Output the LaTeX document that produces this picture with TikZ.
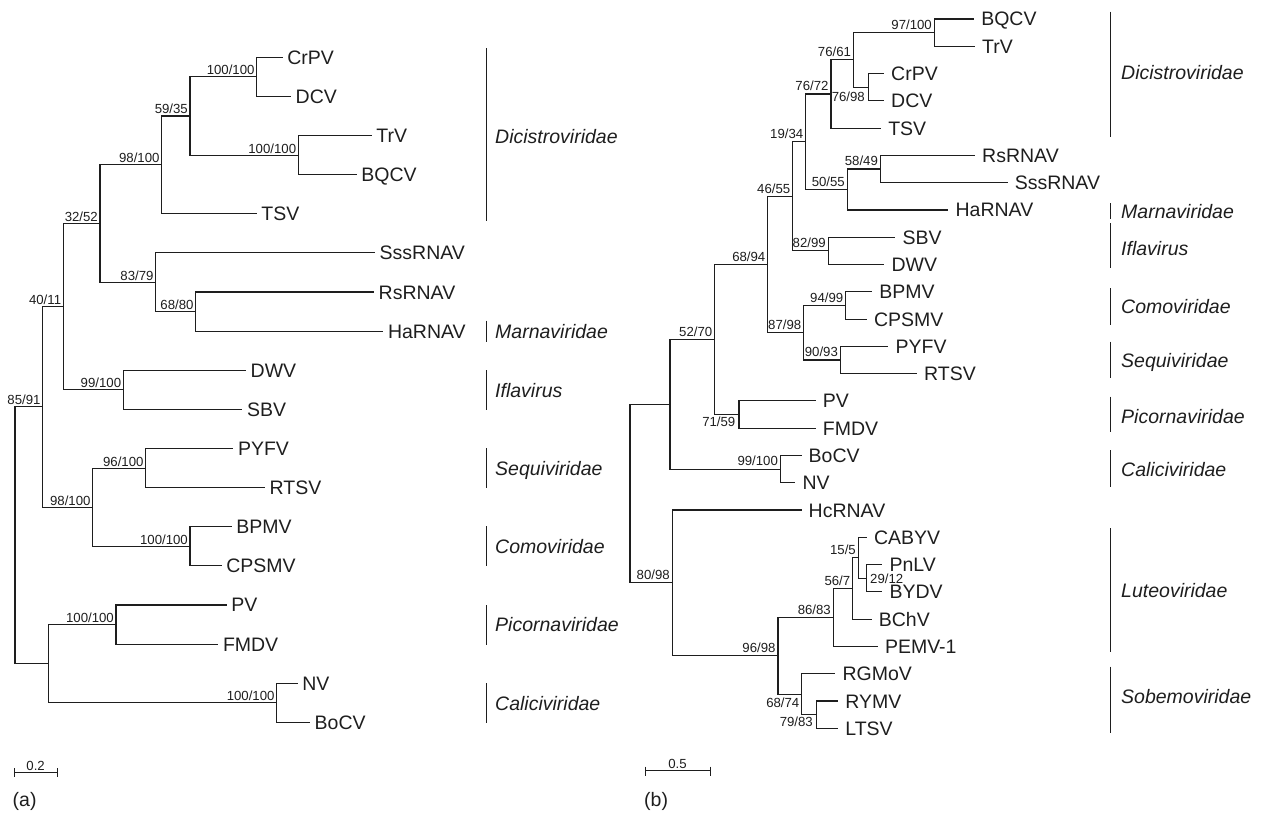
\documentclass[tikz,border=0pt]{standalone}
\usepackage{fontspec}
\setmainfont{Liberation Sans}
\definecolor{ink}{HTML}{1E1E1E}
\begin{document}
\begin{tikzpicture}[x=1pt,y=-1pt,
  br/.style={draw=ink,line width=1.1pt},
  leafa/.style={anchor=west,inner xsep=4.5pt,inner ysep=0pt,text height=14pt,text depth=0pt,font=\fontsize{19.5}{22}\selectfont,text=ink},
  leafb/.style={leafa,inner xsep=7pt},
  boot/.style={inner sep=0pt,text height=9.5pt,text depth=0pt,font=\fontsize{13.2}{15}\selectfont,text=ink},
  boota/.style={boot,anchor=south east,xshift=-2pt,yshift=1.8pt},
  bootb/.style={boot,anchor=south east,xshift=-2.3pt,yshift=3pt},
  fam/.style={anchor=west,inner sep=0pt,text height=14pt,text depth=0pt,font=\fontsize{19.5}{22}\selectfont\itshape,text=ink},
  panel/.style={anchor=base west,inner sep=0pt,font=\fontsize{19.5}{22}\selectfont,text=ink}]
\useasboundingbox (0,0) rectangle (1263,816);

% ================= panel (a) =================
\node[leafa] (CrPVa) at (282.7,57.3) {CrPV};
\node[leafa] (DCVa) at (291,96.42) {DCV};
\node[leafa] (TrVa) at (371.7,135.54) {TrV};
\node[leafa] (BQCVa) at (356.7,174.66) {BQCV};
\node[leafa] (TSVa) at (256.7,213.78) {TSV};
\node[leafa] (SssRNAVa) at (375,252.9) {SssRNAV};
\node[leafa] (RsRNAVa) at (374,292.02) {RsRNAV};
\node[leafa] (HaRNAVa) at (383.3,331.14) {HaRNAV};
\node[leafa] (DWVa) at (246,370.26) {DWV};
\node[leafa] (SBVa) at (242.3,409.38) {SBV};
\node[leafa] (PYFVa) at (233.3,448.5) {PYFV};
\node[leafa] (RTSVa) at (265,487.62) {RTSV};
\node[leafa] (BPMVa) at (231.7,526.74) {BPMV};
\node[leafa] (CPSMVa) at (221.7,565.86) {CPSMV};
\node[leafa] (PVa) at (226.7,604.98) {PV};
\node[leafa] (FMDVa) at (218.3,644.1) {FMDV};
\node[leafa] (NVa) at (297.7,683.22) {NV};
\node[leafa] (BoCVa) at (310,722.34) {BoCV};

\coordinate (a1) at (256.7,76.86);
\coordinate (a2) at (298.3,155.1);
\coordinate (a3) at (190,115.98);
\coordinate (a4) at (161.7,164.88);
\coordinate (a5) at (195.7,311.58);
\coordinate (a6) at (155.7,282.24);
\coordinate (a7) at (100,223.56);
\coordinate (a8) at (123.3,389.82);
\coordinate (a9) at (63.3,306.69);
\coordinate (a10) at (145.7,468.06);
\coordinate (a11) at (190,546.3);
\coordinate (a12) at (92.7,507.18);
\coordinate (a13) at (42.7,406.94);
\coordinate (a14) at (116,624.54);
\coordinate (a15) at (276.7,702.78);
\coordinate (a16) at (48.3,663.66);
\coordinate (a0) at (15,535.3);

\draw[br] (a1) |- (CrPVa.west);  \draw[br] (a1) |- (DCVa.west);
\draw[br] (a2) |- (TrVa.west);   \draw[br] (a2) |- (BQCVa.west);
\draw[br] (a3) |- (a1);          \draw[br] (a3) |- (a2);
\draw[br] (a4) |- (a3);          \draw[br] (a4) |- (TSVa.west);
\draw[br] (a5) |- (RsRNAVa.west); \draw[br] (a5) |- (HaRNAVa.west);
\draw[br] (a6) |- (SssRNAVa.west); \draw[br] (a6) |- (a5);
\draw[br] (a7) |- (a4);          \draw[br] (a7) |- (a6);
\draw[br] (a8) |- (DWVa.west);   \draw[br] (a8) |- (SBVa.west);
\draw[br] (a9) |- (a7);          \draw[br] (a9) |- (a8);
\draw[br] (a10) |- (PYFVa.west); \draw[br] (a10) |- (RTSVa.west);
\draw[br] (a11) |- (BPMVa.west); \draw[br] (a11) |- (CPSMVa.west);
\draw[br] (a12) |- (a10);        \draw[br] (a12) |- (a11);
\draw[br] (a13) |- (a9);         \draw[br] (a13) |- (a12);
\draw[br] (a14) |- (PVa.west);   \draw[br] (a14) |- (FMDVa.west);
\draw[br] (a15) |- (NVa.west);   \draw[br] (a15) |- (BoCVa.west);
\draw[br] (a16) |- (a14);        \draw[br] (a16) |- (a15);
\draw[br] (a0) |- (a13);         \draw[br] (a0) |- (a16);

\node[boota] (ba1) at (a1) {100/100};
\node[boota] (ba2) at (a2) {100/100};
\node[boota] (ba3) at (a3) {59/35};
\node[boota] (ba4) at (a4) {98/100};
\node[boota] (ba5) at (a5) {68/80};
\node[boota] (ba6) at (a6) {83/79};
\node[boota] (ba7) at (a7) {32/52};
\node[boota] (ba8) at (a8) {99/100};
\node[boota] (ba9) at (a9) {40/11};
\node[boota] (ba10) at (a10) {96/100};
\node[boota] (ba11) at (a11) {100/100};
\node[boota] (ba12) at (a12) {98/100};
\node[boota] (ba13) at (a13) {85/91};
\node[boota] (ba14) at (a14) {100/100};
\node[boota] (ba15) at (a15) {100/100};

% family bars (a)
\draw[br] (486.7,48.3) -- (486.7,221);
\draw[br] (486.7,320.7) -- (486.7,342.3);
\draw[br] (486.7,370) -- (486.7,410);
\draw[br] (486.7,448.3) -- (486.7,488);
\draw[br] (486.7,526.3) -- (486.7,566);
\draw[br] (486.7,605) -- (486.7,644.5);
\draw[br] (486.7,683) -- (486.7,723);
\node[fam] (fa1) at (495,136.5) {Dicistroviridae};
\node[fam] (fa2) at (495,331) {Marnaviridae};
\node[fam] (fa3) at (495,390) {Iflavirus};
\node[fam] (fa4) at (495,468) {Sequiviridae};
\node[fam] (fa5) at (495,546) {Comoviridae};
\node[fam] (fa6) at (495,624.5) {Picornaviridae};
\node[fam] (fa7) at (495,703) {Caliciviridae};

% scale (a)
\draw[br,line width=1pt] (14,772.7) -- (57.3,772.7);
\draw[br,line width=1pt] (14,768.3) -- (14,776.5);
\draw[br,line width=1pt] (57.3,768.3) -- (57.3,776.5);
\node[boot,anchor=south] (sa) at (35.6,771) {0.2};
\node[panel] (pa) at (12.5,806) {(a)};

% ================= panel (b) =================
\node[leafb] (BQCVb) at (974.1,19) {BQCV};
\node[leafb] (TrVb) at (975,46.28) {TrV};
\node[leafb] (CrPVb) at (884,73.56) {CrPV};
\node[leafb] (DCVb) at (884,100.84) {DCV};
\node[leafb] (TSVb) at (881.1,128.12) {TSV};
\node[leafb] (RsRNAVb) at (975,155.4) {RsRNAV};
\node[leafb] (SssRNAVb) at (1007.6,182.68) {SssRNAV};
\node[leafb] (HaRNAVb) at (948.4,209.96) {HaRNAV};
\node[leafb] (SBVb) at (895.4,237.24) {SBV};
\node[leafb] (DWVb) at (884.4,264.52) {DWV};
\node[leafb] (BPMVb) at (872.1,291.8) {BPMV};
\node[leafb] (CPSMVb) at (866.8,319.08) {CPSMV};
\node[leafb] (PYFVb) at (888.4,346.36) {PYFV};
\node[leafb] (RTSVb) at (917,373.64) {RTSV};
\node[leafb] (PVb) at (815.7,400.92) {PV};
\node[leafb] (FMDVb) at (815.7,428.2) {FMDV};
\node[leafb] (BoCVb) at (801.5,455.48) {BoCV};
\node[leafb] (NVb) at (795.4,482.76) {NV};
\node[leafb] (HcRNAVb) at (801.5,510.04) {HcRNAV};
\node[leafb] (CABYVb) at (866.8,537.32) {CABYV};
\node[leafb] (PnLVb) at (882.3,564.6) {PnLV};
\node[leafb] (BYDVb) at (882.3,591.88) {BYDV};
\node[leafb] (BChVb) at (871.7,619.16) {BChV};
\node[leafb] (PEMVb) at (877.8,646.44) {PEMV-1};
\node[leafb] (RGMoVb) at (835.4,673.72) {RGMoV};
\node[leafb] (RYMVb) at (838.2,701) {RYMV};
\node[leafb] (LTSVb) at (838.2,728.28) {LTSV};

\coordinate (b1) at (934.3,32.64);
\coordinate (b2) at (868.2,87.2);
\coordinate (b3) at (853.5,59.92);
\coordinate (b4) at (831,94.02);
\coordinate (b5) at (880.4,169.04);
\coordinate (b6) at (847.3,189.5);
\coordinate (b7) at (805.7,141.76);
\coordinate (b8) at (828.2,250.88);
\coordinate (b9) at (792.7,196.32);
\coordinate (b10) at (845.7,305.44);
\coordinate (b11) at (840.4,360);
\coordinate (b12) at (803.7,332.72);
\coordinate (b13) at (767.8,264.52);
\coordinate (b14) at (739,414.56);
\coordinate (b15) at (714.7,339.54);
\coordinate (b16) at (780.4,469.12);
\coordinate (b17) at (670,404.33);
\coordinate (b18) at (866.7,578.24);
\coordinate (b19) at (858.3,557.78);
\coordinate (b20) at (852.7,588.47);
\coordinate (b21) at (833.3,617.46);
\coordinate (b22) at (816.7,714.64);
\coordinate (b23) at (801.6,694.18);
\coordinate (b24) at (778,655.82);
\coordinate (b25) at (672.2,582.93);
\coordinate (b0) at (630,493.6);

\draw[br] (b1) |- (BQCVb.west);  \draw[br] (b1) |- (TrVb.west);
\draw[br] (b2) |- (CrPVb.west);  \draw[br] (b2) |- (DCVb.west);
\draw[br] (b3) |- (b1);          \draw[br] (b3) |- (b2);
\draw[br] (b4) |- (b3);          \draw[br] (b4) |- (TSVb.west);
\draw[br] (b5) |- (RsRNAVb.west); \draw[br] (b5) |- (SssRNAVb.west);
\draw[br] (b6) |- (b5);          \draw[br] (b6) |- (HaRNAVb.west);
\draw[br] (b7) |- (b4);          \draw[br] (b7) |- (b6);
\draw[br] (b8) |- (SBVb.west);   \draw[br] (b8) |- (DWVb.west);
\draw[br] (b9) |- (b7);          \draw[br] (b9) |- (b8);
\draw[br] (b10) |- (BPMVb.west); \draw[br] (b10) |- (CPSMVb.west);
\draw[br] (b11) |- (PYFVb.west); \draw[br] (b11) |- (RTSVb.west);
\draw[br] (b12) |- (b10);        \draw[br] (b12) |- (b11);
\draw[br] (b13) |- (b9);         \draw[br] (b13) |- (b12);
\draw[br] (b14) |- (PVb.west);   \draw[br] (b14) |- (FMDVb.west);
\draw[br] (b15) |- (b13);        \draw[br] (b15) |- (b14);
\draw[br] (b16) |- (BoCVb.west); \draw[br] (b16) |- (NVb.west);
\draw[br] (b17) |- (b15);        \draw[br] (b17) |- (b16);
\draw[br] (b18) |- (PnLVb.west); \draw[br] (b18) |- (BYDVb.west);
\draw[br] (b19) |- (CABYVb.west); \draw[br] (b19) |- (b18);
\draw[br] (b20) |- (b19);        \draw[br] (b20) |- (BChVb.west);
\draw[br] (b21) |- (b20);        \draw[br] (b21) |- (PEMVb.west);
\draw[br] (b22) |- (RYMVb.west); \draw[br] (b22) |- (LTSVb.west);
\draw[br] (b23) |- (RGMoVb.west); \draw[br] (b23) |- (b22);
\draw[br] (b24) |- (b21);        \draw[br] (b24) |- (b23);
\draw[br] (b25) |- (HcRNAVb.west); \draw[br] (b25) |- (b24);
\draw[br] (b0) |- (b17);         \draw[br] (b0) |- (b25);

\node[bootb] (bb1) at (b1) {97/100};
\node[boot,anchor=east] (bb2) at (865,96.5) {76/98};
\node[bootb] (bb3) at (b3) {76/61};
\node[bootb] (bb4) at (b4) {76/72};
\node[bootb] (bb5) at (b5) {58/49};
\node[bootb] (bb6) at (b6) {50/55};
\node[bootb] (bb7) at (b7) {19/34};
\node[bootb] (bb8) at (b8) {82/99};
\node[bootb] (bb9) at (b9) {46/55};
\node[bootb] (bb10) at (b10) {94/99};
\node[bootb] (bb11) at (b11) {90/93};
\node[bootb] (bb12) at (b12) {87/98};
\node[bootb] (bb13) at (b13) {68/94};
\node[boot,anchor=east] (bb14) at (735.5,421.5) {71/59};
\node[bootb] (bb15) at (b15) {52/70};
\node[bootb] (bb16) at (b16) {99/100};
\node[boot,anchor=west] (bb18) at (870,578.5) {29/12};
\node[bootb] (bb19) at (b19) {15/5};
\node[bootb] (bb20) at (b20) {56/7};
\node[bootb] (bb21) at (b21) {86/83};
\node[boot,anchor=east] (bb22) at (813,721.5) {79/83};
\node[boot,anchor=east] (bb23) at (799.5,702.5) {68/74};
\node[bootb] (bb24) at (b24) {96/98};
\node[bootb] (bb25) at (b25) {80/98};

% family bars (b)
\draw[br] (1110.7,11.7) -- (1110.7,137.3);
\draw[br] (1110.7,203) -- (1110.7,219);
\draw[br] (1110.7,223.3) -- (1110.7,268.3);
\draw[br] (1110.7,288.3) -- (1110.7,325);
\draw[br] (1110.7,341.7) -- (1110.7,378.3);
\draw[br] (1110.7,396.7) -- (1110.7,431.7);
\draw[br] (1110.7,450) -- (1110.7,486.7);
\draw[br] (1110.7,528.3) -- (1110.7,651.7);
\draw[br] (1110.7,666.7) -- (1110.7,733.3);
\node[fam] (fb1) at (1121,72) {Dicistroviridae};
\node[fam] (fb2) at (1121,211) {Marnaviridae};
\node[fam] (fb3) at (1121,248) {Iflavirus};
\node[fam] (fb4) at (1121,306.7) {Comoviridae};
\node[fam] (fb5) at (1121,360) {Sequiviridae};
\node[fam] (fb6) at (1121,416) {Picornaviridae};
\node[fam] (fb7) at (1121,469) {Caliciviridae};
\node[fam] (fb8) at (1121,590) {Luteoviridae};
\node[fam] (fb9) at (1121,696) {Sobemoviridae};

% scale (b)
\draw[br,line width=1pt] (645.3,770.7) -- (710.6,770.7);
\draw[br,line width=1pt] (645.3,766.7) -- (645.3,775.5);
\draw[br,line width=1pt] (710.6,766.7) -- (710.6,775.5);
\node[boot,anchor=south] (sb) at (677.5,769) {0.5};
\node[panel] (pb) at (644,806) {(b)};
\end{tikzpicture}
\end{document}
